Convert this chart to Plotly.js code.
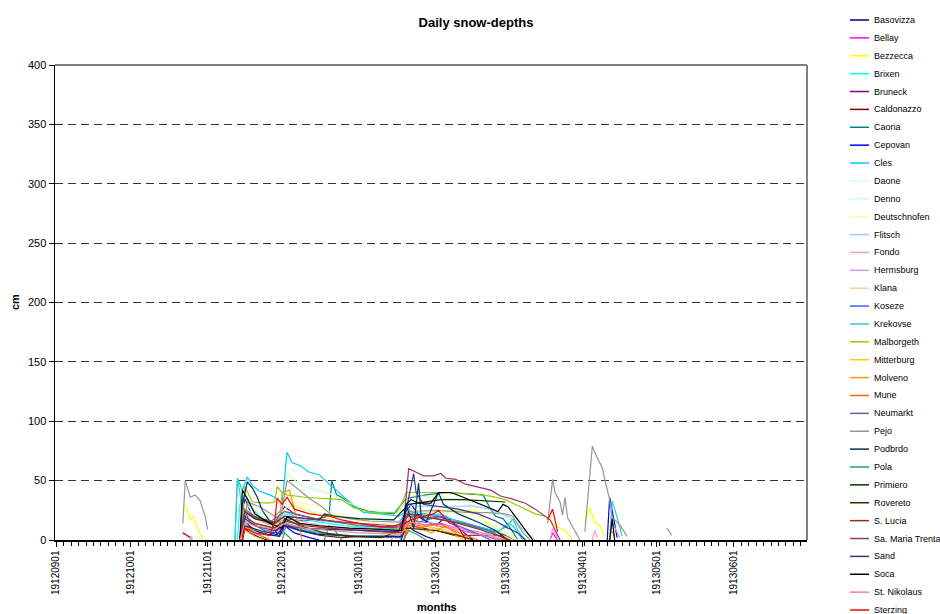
<!DOCTYPE html>
<html><head><meta charset="utf-8">
<script src="https://cdn.plot.ly/plotly-3.0.1.min.js"></script>
<style>html,body{margin:0;padding:0;background:#fff}#chart{width:940px;height:614px}</style>
</head><body><div id="chart"></div>
<script>
const stations = ["Basovizza","Bellay","Bezzecca","Brixen","Bruneck","Caldonazzo","Caoria","Cepovan","Cles","Daone","Denno","Deutschnofen","Flitsch","Fondo","Hermsburg","Klana","Koseze","Krekovse","Malborgeth","Mitterburg","Molveno","Mune","Neumarkt","Pejo","Podbrdo","Pola","Primiero","Rovereto","S. Lucia","Sa. Maria Trenta","Sand","Soca","St. Nikolaus","Sterzing"];
const lineColors = ["#000080","#FF00FF","#FFFF00","#00FFFF","#800080","#800000","#008080","#0000FF","#00CCFF","#CCFFFF","#CCFFCC","#FFFF99","#99CCFF","#FF99CC","#CC99FF","#FFCC99","#3366FF","#33CCCC","#99CC00","#FFCC00","#FF9900","#FF6600","#666699","#969696","#003366","#339966","#003300","#333300","#993300","#993366","#333399","#000000","#FF8080","#FF0000"];

// [MMDD, cm]  (Sep-Dec = 1912, Jan-Jun = 1913); null = no data (gap)
const basovizza = [["1114",0],["1115",12],["1118",6],["1122",2],["1125",0],["1201",null],["0118",0],["0120",14],["0123",8],["0128",3],["0201",0]];
const bellay = [["1115",0],["1116",14],["1120",9],["1126",4],["1202",12],["1208",8],["1220",5],["0101",3],["0118",2],["0120",16],["0125",12],["0203",14],["0212",8],["0220",4],["0226",0],["0227",null],["0319",0],["0320",6],["0322",0]];
const bezzecca = [["1023",29],["1025",17],["1026",20],["1028",10],["1030",0],["1102",null],["1114",0],["1116",20],["1120",12],["1126",8],["1201",22],["1205",30],["1210",26],["1217",20],["1224",15],["1231",11],["0110",8],["0118",7],["0120",20],["0126",22],["0201",25],["0210",25],["0218",24],["0221",15],["0226",8],["0303",0],["0304",null],["0318",20],["0321",12],["0325",8],["0328",0],["0329",null],["0402",14],["0404",27],["0406",15],["0408",12],["0410",3]];
const brixen = [["1022",5],["1026",2],["1027",null],["1113",0],["1114",30],["1116",38],["1118",28],["1122",20],["1128",14],["1202",24],["1208",18],["1216",15],["1226",12],["0106",10],["0117",9],["0120",20],["0201",18],["0212",14],["0220",8],["0226",0]];
const bruneck = [["1114",0],["1116",35],["1119",20],["1122",18],["1128",15],["1202",28],["1206",22],["1214",18],["1224",15],["0105",12],["0118",10],["0121",22],["0201",20],["0210",16],["0220",10],["0301",4],["0305",0]];
const caldonazzo = [["1115",0],["1116",15],["1120",8],["1126",4],["1202",14],["1208",8],["1216",4],["1225",2],["0101",3],["0115",3],["0118",2],["0121",12],["0201",8],["0210",3],["0215",4],["0227",4],["0301",0]];
const caoria = [["1114",0],["1116",20],["1120",14],["1128",10],["1202",18],["1210",16],["1218",19],["1220",22],["1221",50],["1223",38],["1225",36],["1227",33],["1230",28],["0105",24],["0115",22],["0120",35],["0128",38],["0205",40],["0215",39],["0220",38],["0223",26],["0225",20],["0228",18],["0303",10],["0306",0]];
const cepovan = [["1114",0],["1116",18],["1118",10],["1124",5],["1130",3],["1202",12],["1206",6],["1212",2],["1216",0],["1217",null],["0118",0],["0120",24],["0122",30],["0126",18],["0201",12],["0205",20],["0210",10],["0216",0],["0217",null],["0411",0],["0412",36],["0415",2]];
const cles = [["1112",0],["1113",52],["1115",42],["1117",53],["1119",46],["1122",41],["1126",38],["1129",35],["1201",30],["1203",74],["1205",65],["1208",63],["1212",57],["1216",55],["1218",51],["1221",45],["1223",42],["1227",34],["1230",29],["0103",23],["0110",22],["0117",20],["0120",24],["0201",21],["0210",16],["0218",11],["0226",7],["0302",14],["0304",12],["0308",0]];
const daone = [["1115",0],["1117",18],["1122",14],["1130",10],["1203",30],["1210",25],["1220",22],["0101",18],["0118",16],["0121",25],["0210",22],["0225",10],["0305",0]];
const denno = [["1114",0],["1116",30],["1120",25],["1128",18],["1201",25],["1203",56],["1205",52],["1209",46],["1213",43],["1218",40],["1222",38],["1227",32],["0102",27],["0110",24],["0117",23],["0121",38],["0201",36],["0210",34],["0220",30],["0301",20],["0308",8],["0312",0]];
const deutschnofen = [["1115",0],["1117",25],["1122",20],["1128",16],["1203",36],["1208",32],["1215",28],["1222",22],["1230",17],["0110",14],["0118",13],["0121",25],["0201",24],["0210",23],["0218",20],["0225",12],["0303",4],["0306",0]];
const flitsch = [["1114",0],["1116",20],["1120",14],["1127",10],["1202",22],["1208",18],["1216",16],["1226",14],["0106",12],["0117",11],["0120",30],["0126",28],["0202",28],["0210",28],["0215",29],["0222",26],["0227",23],["0303",19],["0306",13],["0310",6],["0313",0]];
const fondo = [["1115",0],["1116",16],["1122",10],["1130",6],["1202",20],["1208",16],["1218",12],["1230",9],["0115",7],["0120",14],["0201",12],["0212",9],["0222",5],["0301",0],["0302",null],["0319",0],["0320",10],["0322",2],["0323",null],["0405",0],["0406",8],["0407",2]];
const hermsburg = [["1114",0],["1116",22],["1120",18],["1126",13],["1202",17],["1210",13],["1220",10],["0101",8],["0118",6],["0121",16],["0201",14],["0210",10],["0220",6],["0227",0],["0228",null],["0412",0],["0413",15],["0416",2]];
const klana = [["1115",0],["1116",10],["1122",4],["1128",0],["1129",null],["0119",0],["0121",12],["0126",8],["0203",10],["0210",5],["0215",0]];
const koseze = [["1114",0],["1116",25],["1118",15],["1124",8],["1201",5],["1203",12],["1210",8],["1218",5],["1228",3],["0118",2],["0120",22],["0125",15],["0203",20],["0210",12],["0218",5],["0223",0]];
const krekovse = [["1112",0],["1113",52],["1114",40],["1115",18],["1118",10],["1124",6],["1202",15],["1208",10],["1216",6],["1228",4],["0118",3],["0120",28],["0124",20],["0203",22],["0210",15],["0218",10],["0225",6],["0302",12],["0304",18],["0306",8],["0309",0],["0310",null],["0412",0],["0413",33],["0415",19],["0417",3]];
const malborgeth = [["1114",0],["1116",45],["1119",32],["1125",31],["1128",32],["1129",45],["1201",40],["1203",38],["1210",36],["1220",35],["1225",34],["1230",27],["0106",23],["0116",23],["0118",30],["0120",40],["0201",40],["0215",39],["0223",37],["0301",34],["0307",28],["0313",22],["0317",20]];
const mitterburg = [["1115",0],["1116",8],["1120",3],["1124",0],["1125",null],["0119",0],["0121",18],["0126",12],["0201",10],["0208",5],["0212",0]];
const molveno = [["1114",0],["1116",25],["1120",18],["1126",14],["1130",15],["1201",40],["1204",42],["1206",25],["1208",11],["1209",0],["1210",null],["0114",0],["0118",14],["0120",6],["0124",20],["0126",10],["0130",6],["0205",12],["0210",4],["0214",0],["0215",null],["0412",5],["0413",7],["0414",3]];
const mune = [["1115",0],["1116",12],["1120",6],["1126",0],["1127",null],["0119",0],["0121",15],["0125",10],["0202",14],["0208",8],["0214",3],["0218",0]];
const neumarkt = [["1114",0],["1116",26],["1120",20],["1126",15],["1202",24],["1210",20],["1220",16],["0101",12],["0115",10],["0121",20],["0201",18],["0212",14],["0222",8],["0302",0]];
const pejo = [["1022",14],["1023",50],["1025",36],["1027",38],["1029",33],["1031",20],["1101",9],["1105",null],["1115",0],["1117",32],["1122",28],["1128",20],["1201",26],["1203",50],["1205",47],["1208",42],["1212",35],["1217",28],["1221",21],["1228",18],["0105",16],["0117",15],["0121",24],["0201",25],["0210",24],["0215",23],["0222",23],["0301",22],["0304",20],["0308",6],["0311",0],["0315",null],["0318",14],["0320",51],["0321",40],["0323",32],["0324",21],["0325",36],["0326",19],["0328",11],["0330",3],["0331",0],["0401",null],["0402",7],["0405",79],["0407",69],["0409",61],["0410",51],["0412",34],["0413",19],["0416",13],["0419",3],["0420",null],["0505",10],["0507",4]];
const podbrdo = [["1114",0],["1115",30],["1117",49],["1119",44],["1121",36],["1123",25],["1127",13],["1129",5],["1202",12],["1208",8],["1215",5],["0101",3],["0118",3],["0120",30],["0123",10],["0125",48],["0126",20],["0128",15],["0202",40],["0204",30],["0210",22],["0218",15],["0225",8],["0302",0]];
const pola = [["1201",0],["1202",6],["1205",0],["1206",null],["1218",0],["1220",12],["1222",9],["1225",0],["1226",null],["0119",0],["0121",8],["0125",4],["0128",0]];
const primiero = [["1114",0],["1116",24],["1120",18],["1128",14],["1202",20],["1210",18],["1216",17],["1218",22],["1222",20],["0101",18],["0115",17],["0121",30],["0203",34],["0212",34],["0220",33],["0301",32]];
const rovereto = [["1115",0],["1116",12],["1122",8],["1130",4],["1202",18],["1208",12],["1218",6],["1228",3],["0110",2],["0120",10],["0201",8],["0210",4],["0216",0]];
const sLucia = [["1115",0],["1116",20],["1120",14],["1128",10],["1202",16],["1210",12],["1220",10],["0101",8],["0118",6],["0120",22],["0201",18],["0210",14],["0220",8],["0228",2],["0303",0]];
const saMariaTrenta = [["1114",0],["1116",24],["1120",19],["1128",15],["1202",20],["1210",18],["1220",16],["0101",14],["0115",12],["0119",14],["0121",60],["0124",57],["0127",54],["0131",54],["0203",56],["0205",52],["0209",51],["0213",47],["0219",44],["0223",42],["0227",37],["0303",35],["0309",31],["0313",26],["0319",17],["0321",8],["0323",0]];
const sand = [["1114",0],["1116",18],["1120",12],["1128",8],["1202",12],["1210",10],["1220",9],["0101",8],["0117",7],["0120",25],["0123",56],["0124",40],["0127",30],["0203",28],["0210",26],["0218",22],["0225",16],["0302",10],["0306",6],["0309",0]];
const soca = [["1114",0],["1115",42],["1117",35],["1120",22],["1126",14],["1201",10],["1203",20],["1208",14],["1216",12],["1228",10],["0110",9],["0118",8],["0120",30],["0122",34],["0125",31],["0130",31],["0202",40],["0207",40],["0212",36],["0218",31],["0223",27],["0226",24],["0228",30],["0302",28],["0306",17],["0310",6],["0312",0],["0313",null],["0412",0],["0413",18],["0414",0]];
const stNikolaus = [["1022",6],["1024",3],["1026",0],["1027",null],["1114",0],["1116",15],["1120",12],["1128",9],["1202",14],["1210",10],["1220",8],["0101",6],["0118",5],["0121",15],["0201",12],["0210",8],["0220",4],["0301",0]];
const sterzing = [["1022",6],["1023",5],["1025",2],["1026",null],["1115",0],["1116",10],["1120",6],["1126",4],["1128",15],["1129",35],["1201",30],["1203",36],["1206",26],["1212",22],["1220",20],["1225",17],["0101",14],["0110",11],["0118",12],["0122",17],["0127",20],["0131",22],["0202",25],["0206",15],["0210",11],["0213",0],["0214",null],["0318",17],["0320",26],["0322",7]];

const seriesData = [basovizza,bellay,bezzecca,brixen,bruneck,caldonazzo,caoria,cepovan,cles,daone,denno,deutschnofen,flitsch,fondo,hermsburg,klana,koseze,krekovse,malborgeth,mitterburg,molveno,mune,neumarkt,pejo,podbrdo,pola,primiero,rovereto,sLucia,saMariaTrenta,sand,soca,stNikolaus,sterzing];

function toDate(md){ const m = parseInt(md.slice(0,2),10); return (m>=9?'1912':'1913')+'-'+md.slice(0,2)+'-'+md.slice(2,4); }

const W=940,H=614,L=55,R=807,T=65,B=540;
const pw=R-L, ph=B-T;
const fx = x => (x-L)/pw;
const fy = y => (B-y)/ph;

const traces = seriesData.map((s,i)=>({
  type:'scatter', mode:'lines',
  x:s.map(p=>toDate(p[0])), y:s.map(p=>p[1]),
  name:stations[i], line:{color:lineColors[i], width:1.2},
  showlegend:false, hoverinfo:'skip', connectgaps:false
}));

const shapes = [
  {type:'line', xref:'paper', yref:'paper', x0:0, x1:1, y0:1, y1:1, line:{color:'#000', width:1.2}},
  {type:'line', xref:'paper', yref:'paper', x0:1, x1:1, y0:0, y1:1, line:{color:'#808080', width:2}}
];
const annotations = [
  {text:'<b>months</b>', xref:'paper', yref:'paper', x:fx(437), y:fy(607), xanchor:'center', yanchor:'middle', showarrow:false, font:{size:11}},
  {text:'<b>cm</b>', xref:'paper', yref:'paper', x:fx(15), y:fy(302), xanchor:'center', yanchor:'middle', showarrow:false, textangle:-90, font:{size:11}}
];
stations.forEach((name,i)=>{
  const yy = 20 + 17.88*i;
  shapes.push({type:'line', xref:'paper', yref:'paper', x0:fx(850), x1:fx(869), y0:fy(yy), y1:fy(yy), line:{color:lineColors[i], width:1.5}});
  annotations.push({text:name, xref:'paper', yref:'paper', x:fx(872), y:fy(yy), xanchor:'left', yanchor:'middle', showarrow:false, font:{size:9}});
});

const layout = {
  width:W, height:H, margin:{l:L, r:W-R, t:T, b:H-B},
  paper_bgcolor:'#fff', plot_bgcolor:'#fff',
  font:{family:'Arial, "Liberation Sans", sans-serif', color:'#000'},
  title:{text:'<b>Daily snow-depths</b>', font:{size:13}, x:476/W, xanchor:'center', y:1-22/H, yanchor:'middle', xref:'container', yref:'container'},
  xaxis:{type:'date', range:['1912-08-31 12:00','1913-06-30 12:00'], tickformat:'%Y%m%d', dtick:'M1', tick0:'1912-09-01',
    tickangle:-90, ticks:'outside', ticklen:5, tickcolor:'#000', tickfont:{size:10}, showgrid:false,
    showline:true, linecolor:'#000', linewidth:1.5, zeroline:false,
    minor:{dtick:3*86400000, tick0:'1912-09-01', ticks:'outside', ticklen:4, tickcolor:'#000', showgrid:false}},
  yaxis:{range:[0,400], dtick:50, ticks:'outside', ticklen:5, tickcolor:'#000', tickfont:{size:11},
    showgrid:true, gridcolor:'#333', griddash:'8px,5px', gridwidth:1,
    showline:true, linecolor:'#000', linewidth:1.5, zeroline:false},
  shapes:shapes, annotations:annotations, showlegend:false
};
Plotly.newPlot('chart', traces, layout, {staticPlot:true, displayModeBar:false});
</script></body></html>
